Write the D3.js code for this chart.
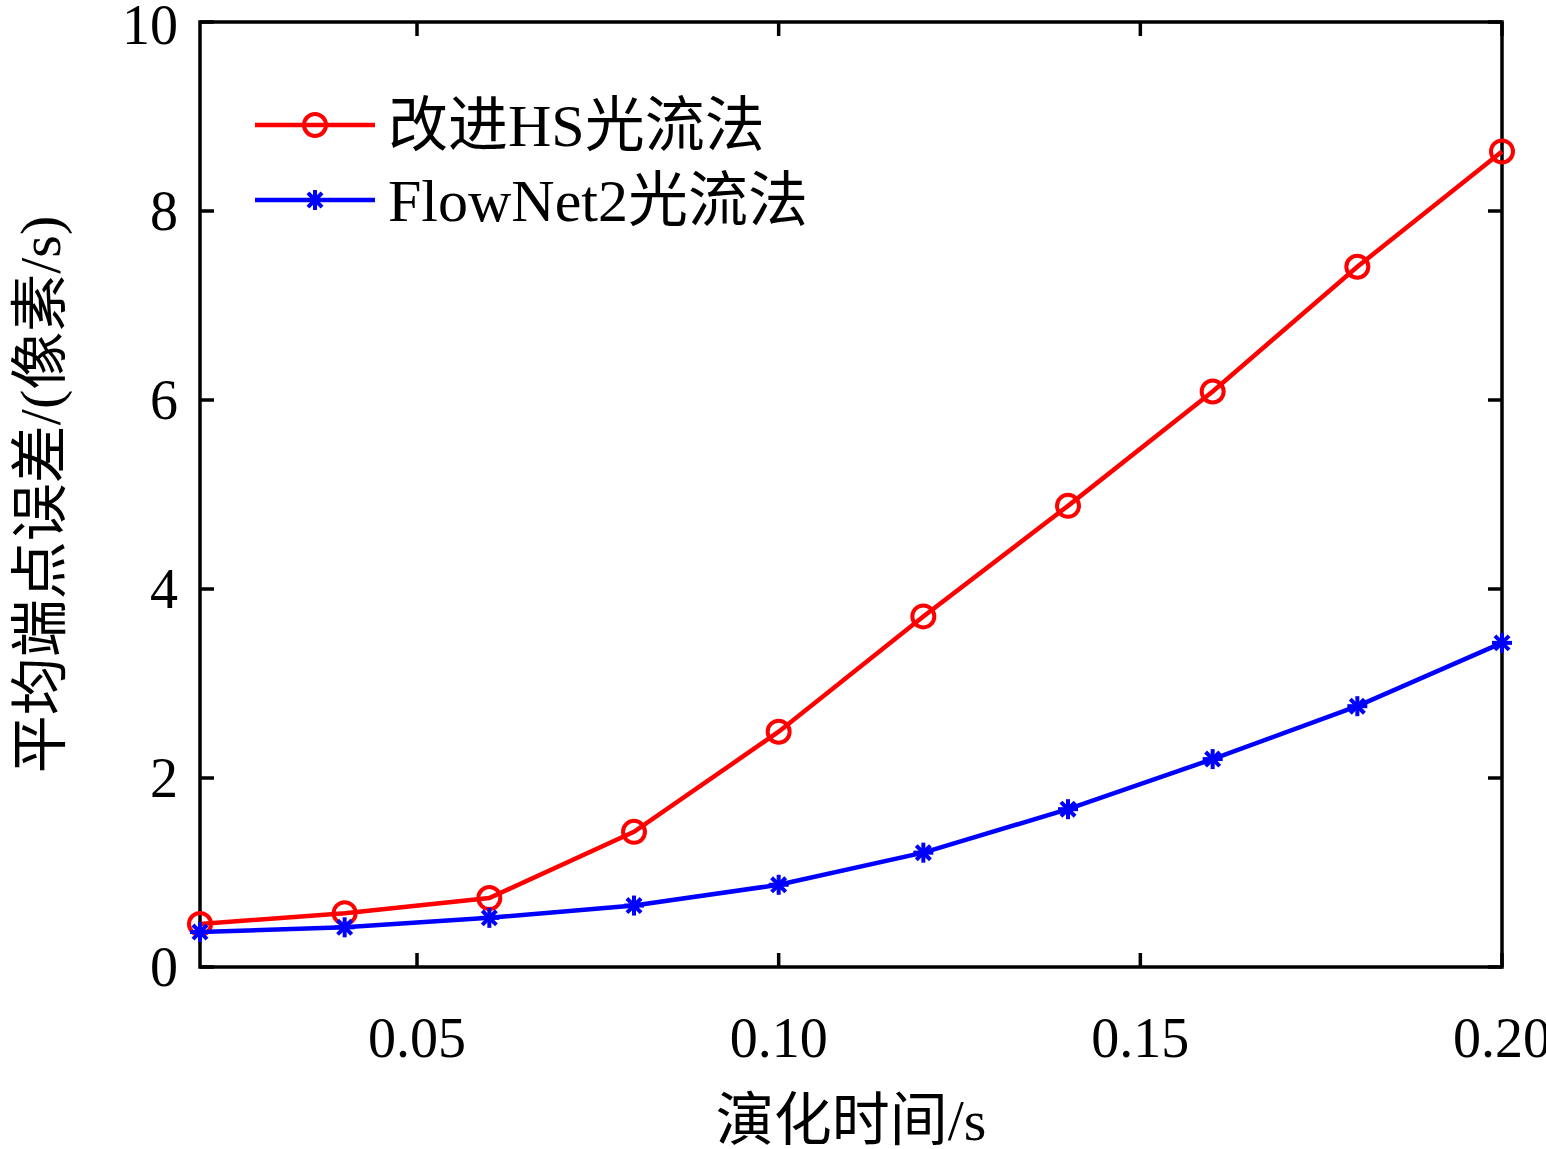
<!DOCTYPE html>
<html><head><meta charset="utf-8">
<script src="https://cdn.jsdelivr.net/npm/d3@7.9.0/dist/d3.min.js"></script>
<style>body{margin:0;background:#fff}</style></head>
<body><svg width="1546" height="1149"></svg>
<script>
const times = [0.02, 0.04, 0.06, 0.08, 0.10, 0.12, 0.14, 0.16, 0.18, 0.20];
const hsErr = [0.455, 0.57, 0.73, 1.43, 2.49, 3.71, 4.88, 6.09, 7.41, 8.63];
const flowErr = [0.37, 0.42, 0.52, 0.65, 0.87, 1.21, 1.67, 2.20, 2.76, 3.43];
const xTicks = [0.05, 0.10, 0.15, 0.20];
const yTicks = [0, 2, 4, 6, 8, 10];
const seriesNames = ["改进HS光流法", "FlowNet2光流法"];

const svg = d3.select("svg");
const L = 200, R = 1502, T = 22, B = 967;
const x = d3.scaleLinear().domain([0.02, 0.20]).range([L, R]);
const y = d3.scaleLinear().domain([0, 10]).range([B, T]);
const num = "'Liberation Serif','Times New Roman',serif";
const cjk = "'Liberation Serif','Noto Sans CJK SC',serif";

svg.append("rect").attr("x", L).attr("y", T).attr("width", R - L).attr("height", B - T)
  .attr("fill", "none").attr("stroke", "#000").attr("stroke-width", 3.5);

const tl = 14;
xTicks.forEach(t => {
  svg.append("line").attr("x1", x(t)).attr("x2", x(t)).attr("y1", B).attr("y2", B - tl).attr("stroke", "#000").attr("stroke-width", 3.5);
  svg.append("line").attr("x1", x(t)).attr("x2", x(t)).attr("y1", T).attr("y2", T + tl).attr("stroke", "#000").attr("stroke-width", 3.5);
  svg.append("text").attr("x", x(t)).attr("y", B + 90).attr("text-anchor", "middle")
    .style("font-family", num).style("font-size", "56px").text(t.toFixed(2));
});
yTicks.forEach(t => {
  svg.append("line").attr("x1", L).attr("x2", L + tl).attr("y1", y(t)).attr("y2", y(t)).attr("stroke", "#000").attr("stroke-width", 3.5);
  svg.append("line").attr("x1", R).attr("x2", R - tl).attr("y1", y(t)).attr("y2", y(t)).attr("stroke", "#000").attr("stroke-width", 3.5);
  svg.append("text").attr("x", L - 22).attr("y", y(t) + (t === 10 ? 22 : 19)).attr("text-anchor", "end")
    .style("font-family", num).style("font-size", "56px").text(t);
});

svg.append("text").attr("x", (L + R) / 2).attr("y", 1140).attr("text-anchor", "middle")
  .style("font-family", cjk).style("font-size", "58px").text("演化时间/s");
svg.append("text").attr("transform", "translate(60," + ((T + B) / 2) + ") rotate(-90)")
  .attr("text-anchor", "middle").style("font-family", cjk).style("font-size", "58px")
  .text("平均端点误差/(像素/s)");

const line = d3.line().x((d, i) => x(times[i])).y(d => y(d));

function star(g, cx, cy, c) {
  const r = 10;
  [0, 45, 90, 135].forEach(a => {
    const rad = a * Math.PI / 180;
    g.append("line").attr("x1", cx - r * Math.cos(rad)).attr("y1", cy - r * Math.sin(rad))
      .attr("x2", cx + r * Math.cos(rad)).attr("y2", cy + r * Math.sin(rad))
      .attr("stroke", c).attr("stroke-width", 4);
  });
}

svg.append("path").datum(hsErr).attr("d", line).attr("fill", "none").attr("stroke", "#f00").attr("stroke-width", 4.5);
hsErr.forEach((v, i) => svg.append("circle").attr("cx", x(times[i])).attr("cy", y(v)).attr("r", 11)
  .attr("fill", "none").attr("stroke", "#f00").attr("stroke-width", 4));

svg.append("path").datum(flowErr).attr("d", line).attr("fill", "none").attr("stroke", "#00f").attr("stroke-width", 4.5);
flowErr.forEach((v, i) => star(svg, x(times[i]), y(v), "#00f"));

const legY = [125, 200];
const colors = ["#f00", "#00f"];
seriesNames.forEach((n, i) => {
  svg.append("line").attr("x1", 255).attr("x2", 375).attr("y1", legY[i]).attr("y2", legY[i])
    .attr("stroke", colors[i]).attr("stroke-width", 4.5);
  if (i === 0) svg.append("circle").attr("cx", 315).attr("cy", legY[i]).attr("r", 11)
    .attr("fill", "none").attr("stroke", colors[i]).attr("stroke-width", 4);
  else star(svg, 315, legY[i], colors[i]);
  svg.append("text").attr("x", 388).attr("y", legY[i] + 21).style("font-family", cjk)
    .style("font-size", "60px").text(n);
});
</script></body></html>
